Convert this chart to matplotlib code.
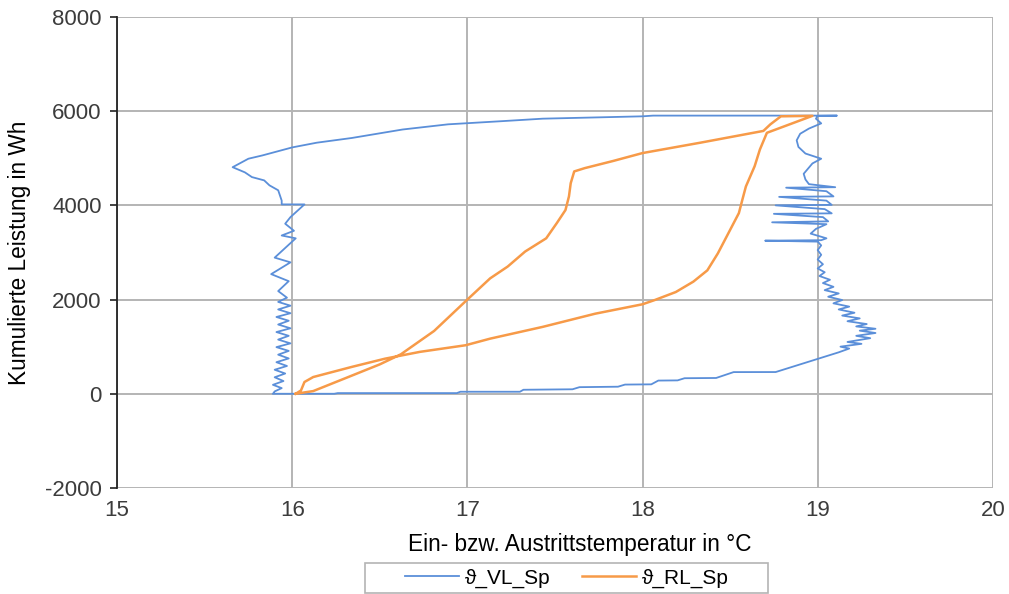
import matplotlib
matplotlib.use("Agg")
import matplotlib.pyplot as plt
from matplotlib.patches import Rectangle

plt.rcParams['font.family'] = ['Liberation Sans', 'DejaVu Sans']
plt.rcParams['axes.unicode_minus'] = False

# Flow temperature (VL): charging branch then discharging branch
vl_temp = [
    15.90, 16.24, 16.26, 16.94, 16.96, 17.30, 17.32, 17.60, 17.64, 17.86, 17.90, 18.05,
    18.09, 18.20, 18.24, 18.42, 18.52, 18.76, 18.88, 19.00, 19.12,
    19.18, 19.13, 19.25, 19.17, 19.30, 19.22, 19.33, 19.24, 19.33, 19.22, 19.28, 19.17,
    19.24, 19.14, 19.21, 19.12, 19.18, 19.09, 19.14, 19.06, 19.12, 19.04, 19.09, 19.03,
    19.07, 19.01, 19.04, 19.00, 19.03, 19.00, 19.02, 19.00, 19.02, 19.00,
    18.70, 19.02, 19.05, 18.96, 18.99, 19.05, 18.74, 19.06, 19.03, 18.75, 19.08, 19.04,
    18.76, 19.08, 19.05, 18.78, 19.09, 19.05, 18.82, 19.10, 18.95, 18.93, 18.92, 18.97,
    19.02, 18.93, 18.89, 18.88, 18.90, 18.95, 19.02, 18.99, 19.00, 19.11,
    18.06, 18.00, 17.43, 17.21, 16.89, 16.63, 16.34, 16.14, 16.00, 15.83, 15.75, 15.66,
    15.73, 15.77, 15.84, 15.87, 15.92, 15.94, 15.94, 16.07, 15.99, 15.96, 16.01, 15.94,
    16.02, 15.90, 15.99, 15.88, 15.98, 15.92, 15.97,
    15.92, 15.99, 15.92, 15.99, 15.91, 15.98, 15.92, 15.99, 15.91, 15.98, 15.92, 15.99,
    15.91, 15.98, 15.92, 15.98, 15.91, 15.97, 15.90, 15.96, 15.90, 15.95, 15.89, 15.94,
    15.90, 15.89,
]
vl_energy = [
    0, 0, 14, 14, 43, 43, 85, 95, 140, 150, 195, 200,
    280, 284, 330, 335, 460, 461, 600, 740, 880,
    960, 1000, 1060, 1100, 1180, 1230, 1290, 1340, 1380, 1430, 1480, 1540,
    1600, 1660, 1720, 1790, 1850, 1920, 1990, 2060, 2130, 2200, 2270, 2350,
    2420, 2500, 2580, 2660, 2750, 2850, 2950, 3050, 3150, 3230,
    3250, 3260, 3300, 3400, 3500, 3600, 3640, 3660, 3750, 3820, 3830, 3920,
    4000, 4010, 4100, 4180, 4190, 4300, 4375, 4385, 4450, 4550, 4670, 4890,
    4990, 5100, 5240, 5380, 5520, 5630, 5740, 5840, 5900, 5905,
    5905, 5890, 5840, 5790, 5720, 5610, 5430, 5330, 5230, 5060, 4990, 4810,
    4700, 4600, 4530, 4425, 4320, 4100, 4020, 4020, 3750, 3610, 3460, 3360,
    3300, 2890, 2790, 2540, 2390, 2180, 2040,
    1950, 1870, 1790, 1710, 1630, 1550, 1470, 1390, 1310, 1230, 1150, 1070,
    990, 910, 830, 750, 670, 590, 510, 430, 350, 270, 190, 120,
    50, 0,
]

# Return temperature (RL): inner S-branch up, outer branch back down
rl_temp = [
    16.02, 16.12, 16.31, 16.50, 16.62, 16.81, 17.00, 17.13, 17.23, 17.33, 17.45, 17.51,
    17.56, 17.58, 17.59, 17.61, 17.67, 17.83, 18.00, 18.33, 18.69, 18.73, 18.79, 18.97,
    18.71, 18.67, 18.64, 18.59, 18.57, 18.55, 18.51, 18.47, 18.43, 18.37, 18.29, 18.19,
    18.07, 18.00, 17.73, 17.43, 17.13, 16.99, 16.73, 16.53, 16.34, 16.12, 16.07, 16.05,
    16.02,
]
rl_energy = [
    0, 57, 340, 624, 837, 1333, 2000, 2450, 2700, 3020, 3300, 3620,
    3900, 4190, 4470, 4720, 4790, 4940, 5110, 5330, 5580, 5720, 5890, 5900,
    5540, 5185, 4830, 4400, 4120, 3835, 3550, 3265, 2980, 2620, 2380, 2160,
    1990, 1900, 1700, 1420, 1170, 1030, 890, 745, 570, 355, 250, 70,
    0,
]

x_ticks = [15, 16, 17, 18, 19, 20]
y_ticks = [-2000, 0, 2000, 4000, 6000, 8000]

W, H = 1009, 594
fig = plt.figure(figsize=(W / 100, H / 100), dpi=100)
ax = fig.add_axes([0.116, 0.1785, 0.868, 0.793])

ax.plot(vl_temp, vl_energy, color='#5B8FD9', lw=1.3, label='ϑ_VL_Sp', zorder=3)
ax.plot(rl_temp, rl_energy, color='#F79A48', lw=1.8, label='ϑ_RL_Sp', zorder=3)

ax.set_xlim(15, 20)
ax.set_ylim(-2000, 8000)
ax.set_xticks(x_ticks)
ax.set_yticks(y_ticks)
ax.grid(True, color='#B4B4B4', lw=1.4)
ax.set_axisbelow(True)

for side in ['top', 'right', 'bottom']:
    ax.spines[side].set_visible(False)
ax.spines['left'].set_color('#222222')
ax.spines['left'].set_linewidth(1.3)

ax.tick_params(axis='y', direction='out', length=5, width=1.2, color='#222222',
               labelsize=16, labelcolor='#3C3C3C', pad=6)
ax.tick_params(axis='x', length=0, labelsize=16, labelcolor='#3C3C3C', pad=9)

ax.set_xlabel('Ein- bzw. Austrittstemperatur in °C', fontsize=16.3, labelpad=11)
ax.xaxis.set_label_coords((580 - 117) / (993 - 117), -0.095)
ax.set_ylabel('Kumulierte Leistung in Wh', fontsize=16.3, labelpad=10)

# Legend box frame drawn separately so its width can be set freely
fig.patches.append(Rectangle((365 / W, 1 - 593 / H), 403 / W, 30 / H,
                             transform=fig.transFigure, facecolor='white',
                             edgecolor='#B4B4B4', lw=1.2, zorder=0))
leg = fig.legend(loc='center', bbox_to_anchor=(567 / W, 1 - 578 / H), ncol=2,
                 fontsize=15, frameon=False, handlelength=2.6,
                 columnspacing=1.5, borderpad=0.0, handletextpad=0.3)

fig.savefig('out.png', dpi=100)
